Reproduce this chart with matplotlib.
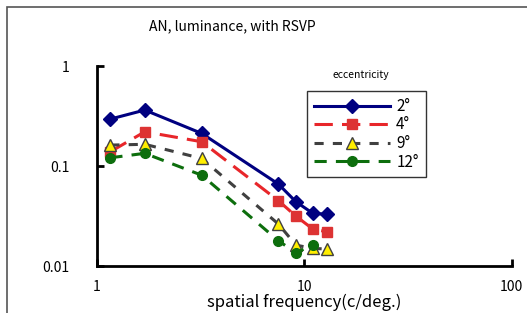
import matplotlib.pyplot as plt
from matplotlib.patches import Rectangle

plt.rcParams['font.family'] = ['Noto Sans CJK JP', 'DejaVu Sans']

# spatial frequency (c/deg.)
freq = [1.16, 1.7, 3.2, 7.5, 9.1, 11.0, 12.9]

ecc_2 = [0.295, 0.363, 0.212, 0.066, 0.044, 0.0336, 0.033]
ecc_4 = [0.139, 0.22, 0.175, 0.045, 0.0316, 0.0234, 0.022]
ecc_9 = [0.162, 0.165, 0.119, 0.0263, 0.0162, 0.015, 0.0148]
ecc_12 = [0.121, 0.134, 0.081, 0.0179, 0.0136, 0.0162]

fig = plt.figure(figsize=(5.27, 3.13), dpi=100)
ax = fig.add_axes([0.184, 0.150, 0.787, 0.639])

# frame around the chart area
fig.patches.append(Rectangle((7 / 527, -0.1), 1.2, 1 - 7 / 313 + 0.1,
                             transform=fig.transFigure, fill=False,
                             edgecolor='#555555', linewidth=1.2))

ax.plot(freq, ecc_2, color='#000080', linewidth=2.2, marker='D',
        markersize=7, label='2°')
ax.plot(freq, ecc_4, color='#e8262a', linewidth=2.2, marker='s',
        markersize=7, markerfacecolor='#dd3333', markeredgecolor='#dd3333',
        dashes=(6, 3), label='4°')
ax.plot(freq, ecc_9, color='#404040', linewidth=2.2, marker='^',
        markersize=8, markerfacecolor='#ffee00', markeredgecolor='#404040',
        markeredgewidth=1, dashes=(3, 3), label='9°')
ax.plot(freq[:len(ecc_12)], ecc_12, color='#0d6e0d', linewidth=2.2,
        marker='o', markersize=7, dashes=(4, 3), label='12°')

ax.set_xscale('log')
ax.set_yscale('log')
ax.set_xlim(1, 100)
ax.set_ylim(0.01, 1)
ax.set_xticks([1, 10, 100])
ax.set_xticklabels(['1', '10', '100'])
ax.set_yticks([0.01, 0.1, 1])
ax.set_yticklabels(['0.01', '0.1', '1'])
ax.minorticks_off()

for side in ['top', 'right']:
    ax.spines[side].set_visible(False)
for side in ['left', 'bottom']:
    ax.spines[side].set_linewidth(2)
ax.tick_params(axis='both', direction='in', length=5, width=2,
               labelsize=10)
ax.tick_params(axis='x', pad=10)
ax.tick_params(axis='y', pad=20)

ax.set_xlabel('spatial frequency(c/deg.)', fontsize=12, labelpad=0)
fig.text(0.44, 0.915, 'AN, luminance, with RSVP', ha='center',
         va='center', fontsize=10)
fig.text(0.685, 0.76, 'eccentricity', ha='center', va='center',
         fontsize=7.5)

leg = ax.legend(loc='upper left', bbox_to_anchor=(0.506, 0.875),
                fontsize=11, frameon=True, fancybox=False,
                edgecolor='black', handlelength=5.0, borderaxespad=0,
                borderpad=0.45, labelspacing=0.1, handletextpad=0.4)
leg.get_frame().set_linewidth(1)

fig.savefig('out.png', dpi=100)
